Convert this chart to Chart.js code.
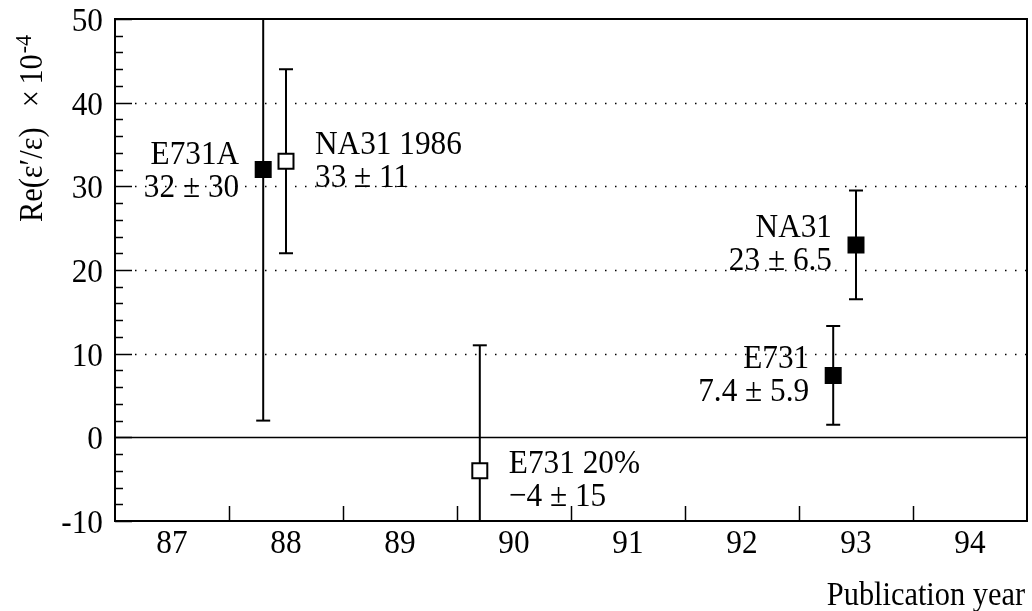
<!DOCTYPE html>
<html>
<head>
<meta charset="utf-8">
<script src="https://cdn.jsdelivr.net/npm/chart.js@4.4.1/dist/chart.umd.min.js"></script>
<style>
  html, body { margin: 0; padding: 0; background: #fff; }
  canvas { display: block; }
</style>
</head>
<body>
<canvas id="chart" width="1032" height="611"></canvas>
<script>
// --- Data --- //
const experiments = ['E731A', 'NA31 1986', 'E731 20%', 'NA31', 'E731'];
const years = [87.8, 88.0, 89.7, 93.0, 92.8];
const values = [32, 33, -4, 23, 7.4];
const errors = [30, 11, 15, 6.5, 5.9];
const filled = [true, false, false, true, true];
const valueLabels = ['32 ± 30', '33 ± 11', '−4 ± 15', '23 ± 6.5', '7.4 ± 5.9'];
const yearLabels = [87, 88, 89, 90, 91, 92, 93, 94];
const yTicks = [-10, 0, 10, 20, 30, 40, 50];

// label placement (left / right of the point) and vertical shift
const labelSide = ['left', 'right', 'right', 'left', 'left'];
const labelShift = [-6, -7, 2, -8, -7];

const FONT = '"Liberation Serif", "DejaVu Serif", serif';
const SQUEEZE = 0.92; // the original type is a bit condensed

// text helper: narrow-ish Times look
function drawText(ctx, str, x, y, align, size) {
    ctx.save();
    ctx.translate(x, y);
    ctx.scale(SQUEEZE, 1);
    ctx.font = size + 'px ' + FONT;
    ctx.textAlign = align;
    ctx.fillText(str, 0, 0);
    ctx.restore();
}

// --- Custom drawing: frame, ticks, grid, error bars, texts --- //
const physicsFrame = {
    id: 'physicsFrame',
    beforeDatasetsDraw(chart) {
        const { ctx, chartArea: a, scales: { x, y } } = chart;
        ctx.save();
        ctx.strokeStyle = '#000';

        // dotted grid lines
        ctx.lineWidth = 1.5;
        ctx.setLineDash([1.5, 8.5]);
        yTicks.forEach(v => {
            if (v <= y.min || v >= y.max || v === 0) return;
            const py = Math.round(y.getPixelForValue(v)) + 0.5;
            ctx.beginPath();
            ctx.moveTo(a.left + 20, py);
            ctx.lineTo(a.right, py);
            ctx.stroke();
        });
        ctx.setLineDash([]);

        // zero line
        const y0 = Math.round(y.getPixelForValue(0)) + 0.5;
        ctx.lineWidth = 1.3;
        ctx.beginPath();
        ctx.moveTo(a.left, y0);
        ctx.lineTo(a.right, y0);
        ctx.stroke();

        // error bars
        ctx.lineWidth = 2;
        years.forEach((yr, i) => {
            const px = x.getPixelForValue(yr);
            const hi = values[i] + errors[i];
            const lo = values[i] - errors[i];
            const pHi = y.getPixelForValue(Math.min(hi, y.max));
            const pLo = y.getPixelForValue(Math.max(lo, y.min));
            ctx.beginPath();
            ctx.moveTo(px, pHi);
            ctx.lineTo(px, pLo);
            ctx.stroke();
            ctx.beginPath();
            if (hi <= y.max) { ctx.moveTo(px - 7, pHi); ctx.lineTo(px + 7, pHi); }
            if (lo >= y.min) { ctx.moveTo(px - 7, pLo); ctx.lineTo(px + 7, pLo); }
            ctx.stroke();
        });
        ctx.restore();
    },
    afterDatasetsDraw(chart) {
        const { ctx, chartArea: a, scales: { x, y } } = chart;
        ctx.save();
        ctx.strokeStyle = '#000';
        ctx.fillStyle = '#000';

        // frame
        ctx.lineWidth = 2;
        ctx.strokeRect(a.left, a.top, a.right - a.left, a.bottom - a.top);

        // y ticks (major every 10, minor every 2)
        ctx.lineWidth = 1.5;
        for (let v = y.min; v <= y.max; v += 2) {
            const py = Math.round(y.getPixelForValue(v)) + 0.5;
            const len = yTicks.includes(v) ? 17 : 8;
            ctx.beginPath();
            ctx.moveTo(a.left, py);
            ctx.lineTo(a.left + len, py);
            ctx.stroke();
        }
        // x ticks between the year labels
        yearLabels.slice(0, -1).forEach(yr => {
            const px = Math.round(x.getPixelForValue(yr + 0.5)) + 0.5;
            ctx.beginPath();
            ctx.moveTo(px, a.bottom);
            ctx.lineTo(px, a.bottom - 15);
            ctx.stroke();
        });

        // tick labels
        ctx.textBaseline = 'alphabetic';
        yTicks.forEach(v => {
            drawText(ctx, String(v), a.left - 12, y.getPixelForValue(v) + 12, 'right', 34);
        });
        yearLabels.forEach(yr => {
            drawText(ctx, String(yr), x.getPixelForValue(yr), a.bottom + 32, 'center', 34);
        });

        // axis titles
        drawText(ctx, 'Publication year', a.right - 2, 605, 'right', 33);

        ctx.save();
        ctx.translate(42, 222);
        ctx.rotate(-Math.PI / 2);
        ctx.scale(SQUEEZE, 1);
        ctx.textAlign = 'left';
        ctx.font = '33px ' + FONT;
        const main = 'Re(ε′/ε)';
        ctx.fillText(main, 0, 0);
        let pos = ctx.measureText(main).width + 22;
        ctx.fillText('×', pos, 0);
        pos += ctx.measureText('×').width + 6;
        ctx.fillText('10', pos, 0);
        pos += ctx.measureText('10').width + 1;
        ctx.font = '24px ' + FONT;
        ctx.fillText('-4', pos, -11);
        ctx.restore();

        // point annotations
        experiments.forEach((name, i) => {
            const px = x.getPixelForValue(years[i]);
            const py = y.getPixelForValue(values[i]);
            const left = labelSide[i] === 'left';
            const align = left ? 'right' : 'left';
            const tx = left ? px - 24 : px + 29;
            drawText(ctx, name, tx, py + labelShift[i], align, 34);
            drawText(ctx, valueLabels[i], tx, py + labelShift[i] + 33, align, 34);
        });
        ctx.restore();
    }
};

const ctx = document.getElementById('chart').getContext('2d');
new Chart(ctx, {
    type: 'scatter',
    data: {
        datasets: [{
            data: years.map((yr, i) => ({ x: yr, y: values[i] })),
            pointStyle: 'rect',
            pointRadius: 10.6,
            pointHoverRadius: 10.6,
            borderWidth: 2,
            borderColor: '#000',
            backgroundColor: filled.map(f => f ? '#000' : '#fff')
        }]
    },
    options: {
        responsive: false,
        animation: false,
        layout: { autoPadding: false, padding: { left: 115, right: 5, top: 19, bottom: 90 } },
        plugins: {
            legend: { display: false },
            tooltip: { enabled: false }
        },
        scales: {
            x: { type: 'linear', min: 86.5, max: 94.5, display: false },
            y: { type: 'linear', min: -10, max: 50, display: false }
        }
    },
    plugins: [physicsFrame]
});
</script>
</body>
</html>
